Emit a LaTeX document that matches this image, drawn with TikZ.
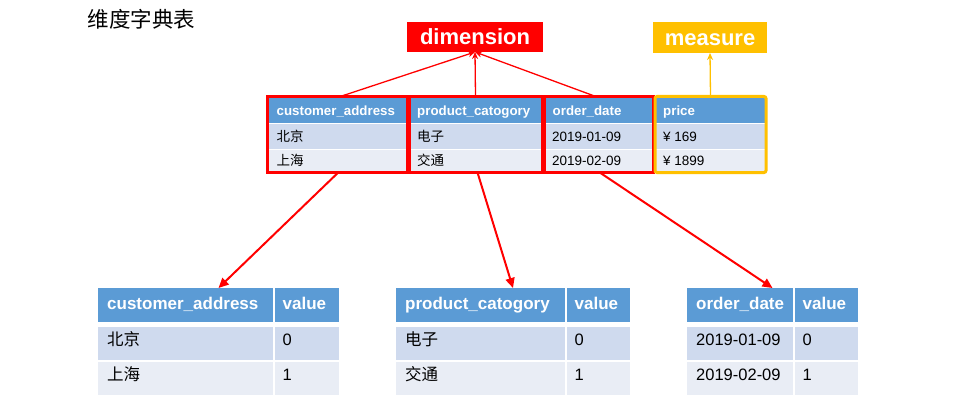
\documentclass[tikz,border=0pt]{standalone}
\usepackage{fontspec}
\setmainfont{Liberation Sans}
\newfontfamily\cjk{Noto Sans CJK SC}
\usetikzlibrary{arrows.meta,fit}
\definecolor{hdrblue}{HTML}{5B9BD5}
\definecolor{rowa}{HTML}{CFDAEE}
\definecolor{rowb}{HTML}{E9EDF5}
\definecolor{myred}{HTML}{FF0000}
\definecolor{mygold}{HTML}{FFC000}
\tikzset{
  topbox/.style={draw=myred, line width=3pt, inner sep=0pt, outer sep=0pt, anchor=north west},
  hdrtxt/.style={anchor=base west, inner sep=0pt, text=white, font=\fontsize{13.3}{15}\selectfont\bfseries},
  celltxt/.style={anchor=base west, inner sep=0pt, font=\fontsize{13.5}{15}\selectfont},
  bhdrtxt/.style={anchor=base west, inner sep=0pt, text=white, font=\fontsize{17}{19}\selectfont\bfseries},
  bcelltxt/.style={anchor=base west, inner sep=0pt, font=\fontsize{16.5}{19}\selectfont},
  labelbox/.style={inner sep=0pt, outer sep=0pt, text=white, anchor=north west,
    font=\fontsize{22}{24}\selectfont\bfseries, text height=15.8pt, text depth=0pt},
  toparrow/.style={myred, line width=1.3pt, -{Stealth[length=7pt,width=6pt]}},
  botarrow/.style={myred, line width=2pt, -{Triangle[length=10pt,width=9pt]}},
}
\newcommand\btab[9]{%
  % #1 name, #2 left, #3 divider, #4 right, #5 header, #6 r1, #7 r2, #8 v1 (unused), #9 unused
  \fill[hdrblue] (#2,288) rectangle (#4,322);
  \fill[rowa] (#2,327) rectangle (#4,360);
  \fill[rowb] (#2,361.5) rectangle (#4,395);
  \draw[white, line width=1.5pt] (#3,288) -- (#3,395);
  \node[fit={(#2,288) (#4,395)}, inner sep=0pt, outer sep=0pt] (#1) {};
  \node[bhdrtxt] (#1h1) at (#2+9,309.3) {#5};
  \node[bhdrtxt] (#1h2) at (#3+8.5,309.3) {value};
  \node[bcelltxt] (#1a1) at (#2+9,345) {#6};
  \node[bcelltxt] (#1a2) at (#3+8.5,345) {0};
  \node[bcelltxt] (#1b1) at (#2+9,380.7) {#7};
  \node[bcelltxt] (#1b2) at (#3+8.5,380.7) {1};
}
\begin{document}
\begin{tikzpicture}[x=1pt,y=-1pt]
\useasboundingbox (0,0) rectangle (960,417);
% title
\node[anchor=base west, inner sep=0pt, font=\cjk\fontsize{21.5}{24}\selectfont] (title) at (87.5,28) {维度字典表};
% labels
\node[labelbox, fill=myred, minimum width=136pt, minimum height=30pt] (dim) at (407,22) {dimension};
\node[labelbox, fill=mygold, minimum width=114pt, minimum height=31pt] (meas) at (653,22) {measure};
% top table fills
\fill[hdrblue] (268,98) rectangle (766,122.5);
\fill[rowa] (268,124) rectangle (766,148.5);
\fill[rowb] (268,149.5) rectangle (766,172);
% top table texts
\node[hdrtxt] (c1h) at (276.5,115.5) {customer\_address};
\node[hdrtxt] (c2h) at (417,115.5) {product\_catogory};
\node[hdrtxt] (c3h) at (552.5,115.5) {order\_date};
\node[hdrtxt] (c4h) at (663,115.5) {price};
\node[celltxt] (c1a) at (276.5,141) {\cjk 北京};
\node[celltxt] (c1b) at (276.5,165.7) {\cjk 上海};
\node[celltxt] (c2a) at (417,141) {\cjk 电子};
\node[celltxt] (c2b) at (417,165.7) {\cjk 交通};
\node[celltxt] (c3a) at (552,141) {2019-01-09};
\node[celltxt] (c3b) at (552,165.7) {2019-02-09};
\node[celltxt] (c4a) at (663,141) {¥ 169};
\node[celltxt] (c4b) at (663,165.7) {¥ 1899};
% top boxes
\node[topbox, minimum width=139.5pt, minimum height=76pt] (b1) at (267.5,96.5) {};
\node[topbox, minimum width=133pt, minimum height=76pt] (b2) at (409,96.5) {};
\node[topbox, minimum width=109.5pt, minimum height=76pt] (b3) at (544,96.5) {};
\node[topbox, draw=mygold, rounded corners=2pt, minimum width=111pt, minimum height=76pt] (b4) at (655,96.5) {};
% arrows up
\draw[toparrow] ([xshift=3pt]b1.north) -- (dim.south);
\draw[toparrow] (b2.north) -- (dim.south);
\draw[toparrow] ([xshift=-3pt]b3.north) -- (dim.south);
\draw[toparrow, mygold] (b4.north) -- (meas.south);
% bottom tables
\btab{t1}{98}{274}{339}{customer\_address}{\cjk 北京}{\cjk 上海}{}{}
\btab{t2}{396}{566}{630}{product\_catogory}{\cjk 电子}{\cjk 交通}{}{}
\btab{t3}{687}{794}{858}{order\_date}{2019-01-09}{2019-02-09}{}{}
% arrows down
\draw[botarrow] ([xshift=1pt]b1.south) -- (t1.north);
\draw[botarrow] ([xshift=2pt]b2.south) -- (t2.north);
\draw[botarrow] ([xshift=1pt]b3.south) -- (t3.north);
\end{tikzpicture}
\end{document}
